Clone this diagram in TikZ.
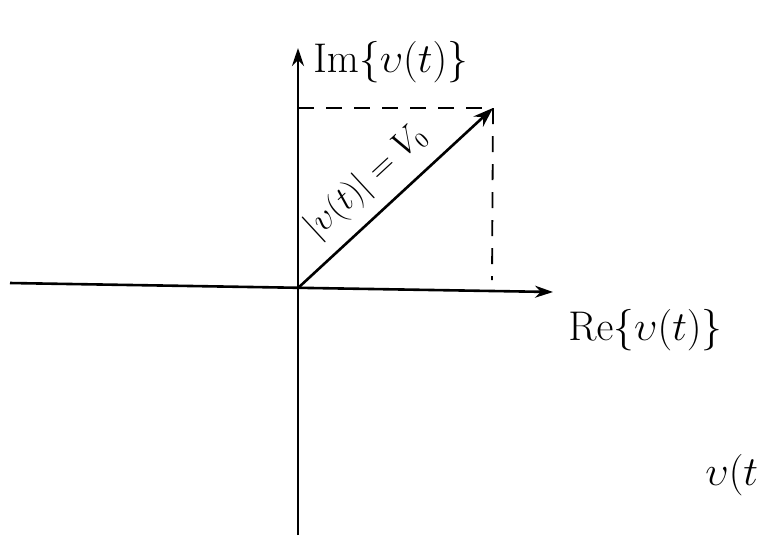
\documentclass[tikz,border=0pt]{standalone}
\usetikzlibrary{arrows.meta}
\begin{document}
\begin{tikzpicture}[x=0.5pt,y=-0.5pt,
  axis/.style={line width=1.3pt,-{Stealth[length=9pt,width=6pt]}},
  guide/.style={line width=0.9pt,dash pattern=on 8pt off 6pt},
  lbl/.style={inner sep=0pt,font=\fontsize{22}{24}\selectfont}]
\useasboundingbox (0,0) rectangle (758,543);
\coordinate (O) at (298,288);
\coordinate (L) at (10,283);
\coordinate (R) at (553,292);
\coordinate (B) at (298,535);
\coordinate (T) at (298,48);
\coordinate (P) at (493,108);
\coordinate (PY) at (298,108);
\coordinate (PX) at (492,280);
\draw[axis] (L) -- (R);
\draw[axis] (B) -- (T);
\draw[guide] (PY) -- (P);
\draw[guide] (P) -- (PX);
\draw[line width=1.3pt,-{Stealth[length=10pt,width=7pt]}] (O) -- (P)
  node[pos=0.46,sloped,above=3pt,font=\fontsize{16}{18}\selectfont] (mag) {$|\upsilon(t)| = V_0$};
\node[lbl,anchor=west] (im) at (313,62) {$\mathrm{Im}\{\upsilon(t)\}$};
\node[lbl,anchor=west] (re) at (568,330) {$\mathrm{Re}\{\upsilon(t)\}$};
\node[lbl,anchor=west] (v) at (705,475) {$\upsilon(t$};
\end{tikzpicture}
\end{document}
